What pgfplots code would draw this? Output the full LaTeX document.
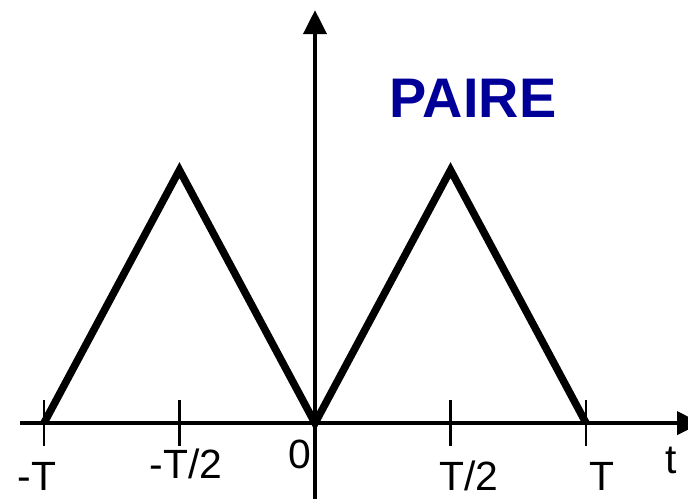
\documentclass[border=0pt]{standalone}
\usepackage{fontspec}
\setmainfont{Liberation Sans}
\usepackage{pgfplots}
\pgfplotsset{compat=1.18}
\usetikzlibrary{arrows.meta}
\definecolor{pairblue}{RGB}{0,0,153}
\begin{document}
\begin{tikzpicture}
\begin{axis}[
  x=271bp, y=253bp,
  hide axis,
  xmin=-1.162, xmax=1.376,
  ymin=-0.300, ymax=1.672,
  clip=false,
  unbounded coords=jump,
  every node/.append style={inner sep=0pt, outer sep=0pt},
]
% axes
\addplot[line width=4bp, black, -{Triangle[width=23bp,length=24bp]}] coordinates {(-1.089,0) (1.424,0)};
\addplot[line width=4bp, black, -{Triangle[width=23bp,length=24bp]}] coordinates {(0,-0.300) (0,1.632)};
% ticks
\addplot[line width=2.2bp, black] coordinates {(-1,-0.09) (-1,0.09) (nan,nan) (-0.5,-0.09) (-0.5,0.09) (nan,nan) (0.5,-0.09) (0.5,0.09) (nan,nan) (1,-0.09) (1,0.09)};
% signal
\addplot[line width=7.5bp, black, line join=miter] coordinates {(-1,0) (-0.5,1) (0,0) (0.5,1) (1,0)};
\node[anchor=base, font=\fontsize{41}{41}\selectfont] at (axis cs:-1.026,-0.265) {-T};
\node[anchor=base, font=\fontsize{41}{41}\selectfont] at (axis cs:-0.476,-0.217) {-T/2};
\node[anchor=base, font=\fontsize{41}{41}\selectfont] at (axis cs:-0.055,-0.178) {0};
\node[anchor=base, font=\fontsize{41}{41}\selectfont] at (axis cs:0.568,-0.265) {T/2};
\node[anchor=base, font=\fontsize{41}{41}\selectfont] at (axis cs:1.059,-0.265) {T};
\node[anchor=base, font=\fontsize{41}{41}\selectfont] at (axis cs:1.314,-0.198) {t};
\node[anchor=base, text=pairblue, font=\fontsize{56}{56}\selectfont\bfseries] at (axis cs:0.583,1.206) {PAIRE};
\coordinate (bbA) at (axis cs:-1.162,-0.300);
\coordinate (bbB) at (axis cs:1.376,1.672);
\end{axis}
\pgfresetboundingbox
\path[use as bounding box] (bbA) rectangle (bbB);
\end{tikzpicture}
\end{document}
